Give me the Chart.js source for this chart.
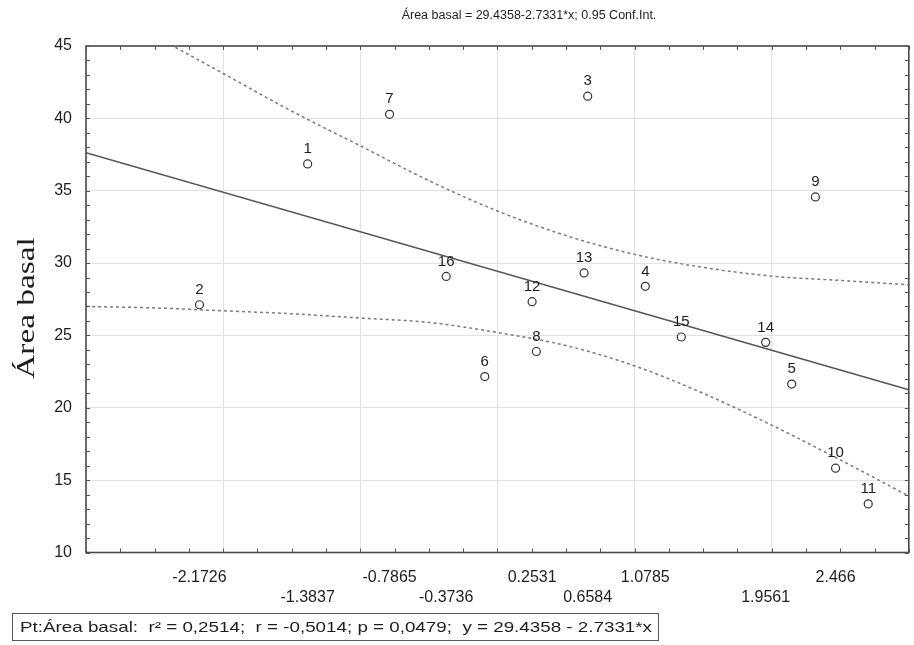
<!DOCTYPE html>
<html>
<head>
<meta charset="utf-8">
<script src="https://cdn.jsdelivr.net/npm/chart.js@4.4.1/dist/chart.umd.min.js"></script>
<style>
  html, body { margin: 0; padding: 0; background: #fff; }
</style>
</head>
<body>
<canvas id="myChart" width="914" height="645"></canvas>
<script>
// point numbers and their values (x score, basal area)
const pointIds = [1, 2, 3, 4, 5, 6, 7, 8, 9, 10, 11, 12, 13, 14, 15, 16];
const xScores = [-1.3837, -2.1726, 0.6584, 1.0785, 2.146, -0.092, -0.7865, 0.284, 2.319, 2.466, 2.704, 0.2531, 0.632, 1.9561, 1.341, -0.3736];
const areaBasal = [36.85, 27.12, 41.53, 28.39, 21.64, 22.16, 40.28, 23.89, 34.57, 15.83, 13.36, 27.33, 29.32, 24.52, 24.89, 29.08];

// x tick labels shown under the axis
const xTickValues = [-2.1726, -1.3837, -0.7865, -0.3736, 0.2531, 0.6584, 1.0785, 1.9561, 2.466];

// fitted line, read at both ends of the plot
const fitX = [-3, 3];
const fitY = [37.63, 21.24];

// 0.95 confidence band, read along the x axis
const bandX = [-3, -2.5, -2, -1.5, -1, -0.5, 0, 0.5, 1, 1.5, 2, 2.5, 3];
const upperBand = [48.3, 45.7, 43.1, 40.5, 38.1, 35.7, 33.6, 31.9, 30.6, 29.7, 29.1, 28.8, 28.5];
const lowerBand = [27.0, 26.9, 26.7, 26.5, 26.2, 25.9, 25.2, 24.3, 22.9, 21.0, 18.8, 16.4, 13.9];

const titleText = 'Área basal = 29.4358-2.7331*x; 0.95 Conf.Int.';
const yTitle = 'Área basal';
const statsText = 'Pt:Área basal:  r² = 0,2514;  r = -0,5014; p = 0,0479;  y = 29.4358 - 2.7331*x';

const sans = '"Liberation Sans", Arial, sans-serif';
const textColor = '#1e1e1e';

const toPoints = (xs, ys) => xs.map((x, i) => ({ x: x, y: ys[i] }));

const decor = {
  id: 'decor',
  beforeDraw(chart) {
    const c = chart.ctx;
    c.save();
    c.fillStyle = '#fff';
    c.fillRect(0, 0, chart.width, chart.height);
    c.restore();
  },
  afterDraw(chart) {
    const c = chart.ctx;
    const ca = chart.chartArea;
    const xs = chart.scales.x;
    const ys = chart.scales.y;
    c.save();

    // frame
    c.strokeStyle = '#4a4a4a';
    c.lineWidth = 1.6;
    c.strokeRect(ca.left, ca.top, ca.right - ca.left, ca.bottom - ca.top);

    // small tick marks on all four sides
    c.lineWidth = 1;
    c.strokeStyle = '#555';
    c.beginPath();
    for (let i = -12; i <= 12; i++) {
      const px = Math.round(xs.getPixelForValue(i / 4)) + 0.5;
      c.moveTo(px, ca.bottom); c.lineTo(px, ca.bottom - 4);
      c.moveTo(px, ca.top); c.lineTo(px, ca.top + 4);
    }
    for (let v = 10; v <= 45; v++) {
      const py = Math.round(ys.getPixelForValue(v)) + 0.5;
      c.moveTo(ca.left, py); c.lineTo(ca.left + 4, py);
      c.moveTo(ca.right, py); c.lineTo(ca.right - 4, py);
    }
    c.stroke();

    // point numbers
    const meta = chart.getDatasetMeta(0);
    c.fillStyle = textColor;
    c.font = '15px ' + sans;
    c.textAlign = 'center';
    c.textBaseline = 'middle';
    meta.data.forEach((el, i) => {
      c.fillText(String(pointIds[i]), el.x, el.y - 15);
    });

    // title
    c.font = '12.5px ' + sans;
    c.fillText(titleText, 529, 16);

    // y axis title
    c.save();
    c.translate(27, 308);
    c.rotate(-Math.PI / 2);
    c.scale(1.28, 1);
    c.font = '26px "Liberation Serif", "Times New Roman", serif';
    c.fillText(yTitle, 0, 0);
    c.restore();

    // stats box
    c.strokeStyle = '#555';
    c.lineWidth = 1;
    c.strokeRect(12.5, 613.5, 646, 27);
    c.font = '15px ' + sans;
    c.textAlign = 'left';
    const w = c.measureText(statsText).width;
    c.save();
    c.translate(20, 628);
    c.scale(632 / w, 1);
    c.fillText(statsText, 0, 0);
    c.restore();

    c.restore();
  }
};

const ctx = document.getElementById('myChart').getContext('2d');

const myChart = new Chart(ctx, {
  type: 'scatter',
  data: {
    datasets: [
      {
        data: toPoints(xScores, areaBasal),
        pointStyle: 'circle',
        pointRadius: 4,
        pointBackgroundColor: 'rgba(255,255,255,0)',
        pointBorderColor: '#333',
        pointBorderWidth: 1.2,
        showLine: false,
        order: 0
      },
      {
        data: toPoints(fitX, fitY),
        showLine: true,
        borderColor: '#555',
        borderWidth: 1.6,
        pointRadius: 0,
        order: 1
      },
      {
        data: toPoints(bandX, upperBand),
        showLine: true,
        borderColor: '#7a7a7a',
        borderWidth: 1.5,
        borderDash: [3, 3],
        cubicInterpolationMode: 'monotone',
        pointRadius: 0,
        order: 2
      },
      {
        data: toPoints(bandX, lowerBand),
        showLine: true,
        borderColor: '#7a7a7a',
        borderWidth: 1.5,
        borderDash: [3, 3],
        cubicInterpolationMode: 'monotone',
        pointRadius: 0,
        order: 3
      }
    ]
  },
  options: {
    responsive: false,
    animation: false,
    layout: { padding: { top: 46, right: 5, bottom: 40, left: 0 } },
    plugins: {
      legend: { display: false },
      tooltip: { enabled: false },
      title: { display: false }
    },
    scales: {
      x: {
        type: 'linear',
        position: 'top',
        min: -3,
        max: 3,
        ticks: { stepSize: 1, display: false },
        grid: { color: '#e2e2e2', drawTicks: false },
        border: { display: false },
        afterFit: (s) => { s.height = 0; }
      },
      x2: {
        type: 'linear',
        axis: 'x',
        position: 'bottom',
        min: -3,
        max: 3,
        afterBuildTicks: (s) => { s.ticks = xTickValues.map(v => ({ value: v })); },
        ticks: {
          autoSkip: false,
          maxRotation: 0,
          padding: 15,
          color: textColor,
          font: { family: sans, size: 16, lineHeight: 1.25 },
          callback: (v, i) => (i % 2 ? ['', String(v)] : String(v))
        },
        grid: { display: false, drawTicks: false },
        border: { display: false },
        afterFit: (s) => { s.height = 52.5; }
      },
      y: {
        min: 10,
        max: 45,
        ticks: {
          stepSize: 5,
          padding: 14,
          color: textColor,
          font: { family: sans, size: 16 }
        },
        grid: { color: '#e2e2e2', drawTicks: false },
        border: { display: false },
        afterFit: (s) => { s.width = 86; }
      }
    }
  },
  plugins: [decor]
});
</script>
</body>
</html>
